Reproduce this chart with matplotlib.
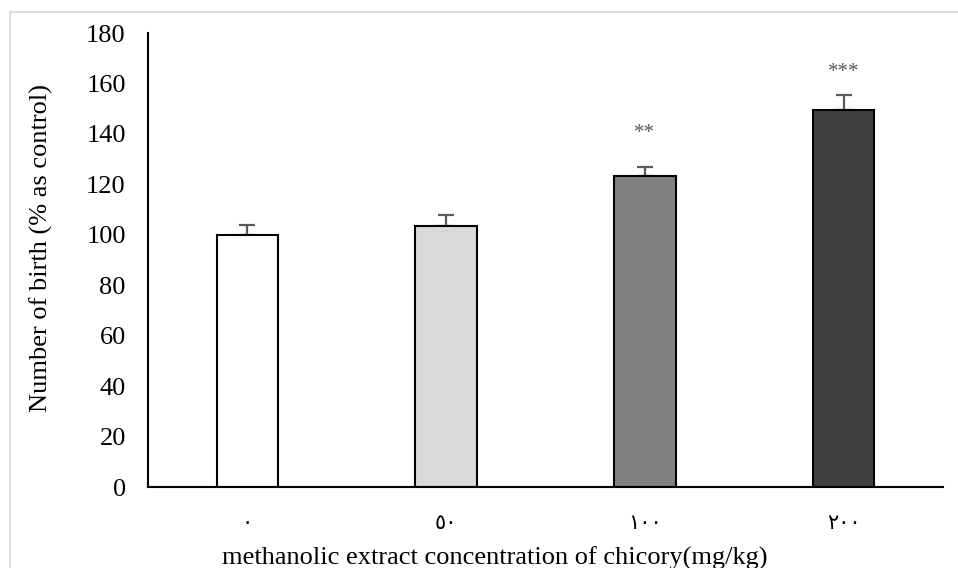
import matplotlib
matplotlib.use("Agg")
import matplotlib.pyplot as plt
from matplotlib.lines import Line2D

categories = ["٠", "٥٠", "١٠٠", "٢٠٠"]
values = [100, 103.3, 123.5, 149.5]
errors = [4.0, 4.5, 3.5, 6.0]
stars = ["", "", "**", "***"]
star_levels = [None, None, 140.0, 164.5]
colors = ["#FFFFFF", "#D9D9D9", "#808080", "#404040"]

W, H = 958, 568
fig = plt.figure(figsize=(W / 100, H / 100), dpi=100)
serif = ["Liberation Serif", "DejaVu Sans"]

# figure border (light gray)
fig.add_artist(Line2D([10 / W, 1.0], [1 - 12 / H, 1 - 12 / H], color="#D9D9D9", lw=1.2, transform=fig.transFigure))
fig.add_artist(Line2D([10 / W, 10 / W], [0, 1 - 12 / H], color="#D9D9D9", lw=1.2, transform=fig.transFigure))

ax = fig.add_axes([148 / W, 1 - 487 / H, (943 - 148) / W, (487 - 33) / H])
x = list(range(len(categories)))
ax.bar(x, values, width=0.31, color=colors, edgecolor="black", linewidth=1.5, zorder=2)
ax.errorbar(x, values, yerr=[[0] * len(errors), errors], fmt="none", ecolor="#595959",
            elinewidth=1.6, capsize=6, capthick=1.6, zorder=1)
for xi, s, ly in zip(x, stars, star_levels):
    if s:
        ax.text(xi, ly, s, ha="center", va="center", fontsize=15, color="#595959", family=serif)

ax.set_xlim(-0.5, 3.5)
ax.set_ylim(0, 180)
ax.set_yticks(range(0, 181, 20))
ax.set_xticks(x)
ax.set_xticklabels(categories, family=serif, fontsize=15)
for lab in ax.get_yticklabels():
    lab.set_family(serif)
    lab.set_fontsize(19)
ax.tick_params(axis="both", length=0)
ax.tick_params(axis="y", pad=16)
ax.tick_params(axis="x", pad=20)
ax.spines["top"].set_visible(False)
ax.spines["right"].set_visible(False)
ax.spines["left"].set_linewidth(1.5)
ax.spines["bottom"].set_linewidth(1.5)
ax.set_ylabel("Number of birth (% as control)", family=serif, fontsize=19, labelpad=24)
ax.set_xlabel("methanolic extract concentration of chicory(mg/kg)", family=serif, fontsize=19, labelpad=9)
ax.xaxis.label.set_x(0.436)
ax.yaxis.label.set_y(0.526)

fig.savefig("out.png", dpi=100)
